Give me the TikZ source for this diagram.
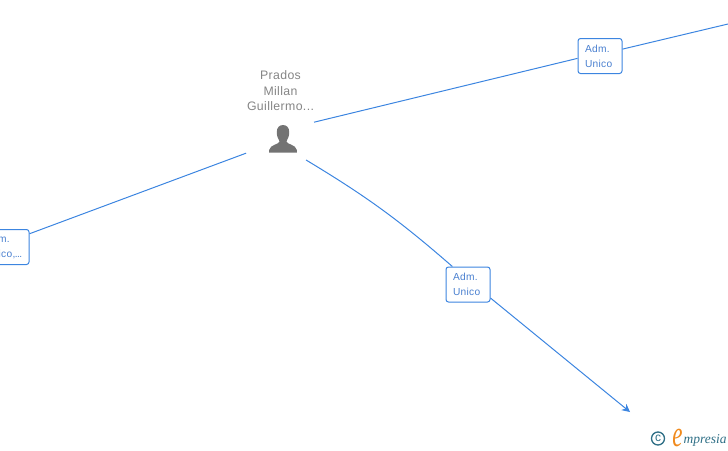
\documentclass[tikz,border=0pt]{standalone}
\usepackage{fontspec}
\setmainfont{Liberation Sans}
\newfontfamily\spacedfont[LetterSpace=3]{Liberation Sans}
\newfontfamily\logofont{Liberation Serif}
\usetikzlibrary{arrows.meta,calc,positioning}
\definecolor{linkblue}{HTML}{3C85E0}
\definecolor{labelblue}{HTML}{4A80D0}
\definecolor{persongray}{HTML}{737373}
\definecolor{namegray}{HTML}{858585}
\definecolor{logoteal}{HTML}{2F6F86}
\definecolor{logoorange}{HTML}{F08A1D}
\tikzset{
  box/.style    = {draw=linkblue, line width=1pt, fill=white, rounded corners=2.5pt, minimum height=35pt,
                   text width=30pt, inner xsep=7pt, inner ysep=0pt, align=left, text=labelblue,
                   font=\spacedfont\fontsize{10.2}{15}\selectfont},
  wire/.style   = {linkblue, line width=1pt},
  vec/.style    = {wire, -{Stealth[length=8pt,width=8pt]}},
  person/.style = {circle, minimum size=75pt, inner sep=0pt, outer sep=0pt},
  personname/.style = {align=center, text=namegray, font=\spacedfont\fontsize{12.3}{15.5}\selectfont},
}
\begin{document}
\begin{tikzpicture}[x=1pt,y=-1pt]
  \useasboundingbox (0,0) rectangle (728,450);
  \node[person] (prados) at (278.6,134.4) {};
  \node[personname] (pradosname) at (280.5,91) {Prados\\Millan\\Guillermo...};
  % silhouette
  \fill[persongray] (283,125) .. controls (279,125) and (276.8,128) .. (276.8,132)
    .. controls (276.8,136) and (278,139) .. (279.6,141.5)
    .. controls (279,144.5) and (270,144.5) .. (269.2,150) -- (269.2,152.7) -- (296.8,152.7) -- (296.8,150)
    .. controls (296,144.5) and (287,144.5) .. (286.4,141.5)
    .. controls (288,139) and (289.2,136) .. (289.2,132)
    .. controls (289.2,128) and (287,125) .. (283,125) -- cycle;
  \node[box] (admtop) at (600,56) {Adm.\\Unico};
  \node[box,text width=37pt] (admleft) at (3.5,247) {Adm.\\Unico,\kern-.6pt.\kern-.6pt.\kern-.6pt.};
  \node[box] (admdown) at (468,284.5) {Adm.\\Unico};
  \coordinate (topend) at (728,24);
  \coordinate (downend) at (630,412);
  \draw[wire] (prados.19) -- (admtop.186);
  \draw[wire] (admtop.17) -- (topend);
  \draw[wire] (prados.210) -- (admleft.27);
  \draw[wire] (prados.317) to[bend left=5] (admdown.131);
  \draw[vec] (admdown.329) -- (downend);
  % logo
  \node[text=logoteal, circle, draw=logoteal, line width=1.3pt, inner sep=0pt, minimum size=13pt,
        font=\fontsize{12}{12}\selectfont] (copy) at (658,438.5) {c};
  \node[text=logoorange, inner sep=0pt, transform shape, yscale=1.6, font=\logofont\itshape\fontsize{23}{23}\selectfont] (logoe) at (677.5,438.5) {e};
  \node[text=logoteal, inner sep=0pt, anchor=west, font=\logofont\itshape\fontsize{13.5}{13.5}\selectfont] (logotext) at (683.5,440) {mpresia};
\end{tikzpicture}
\end{document}
